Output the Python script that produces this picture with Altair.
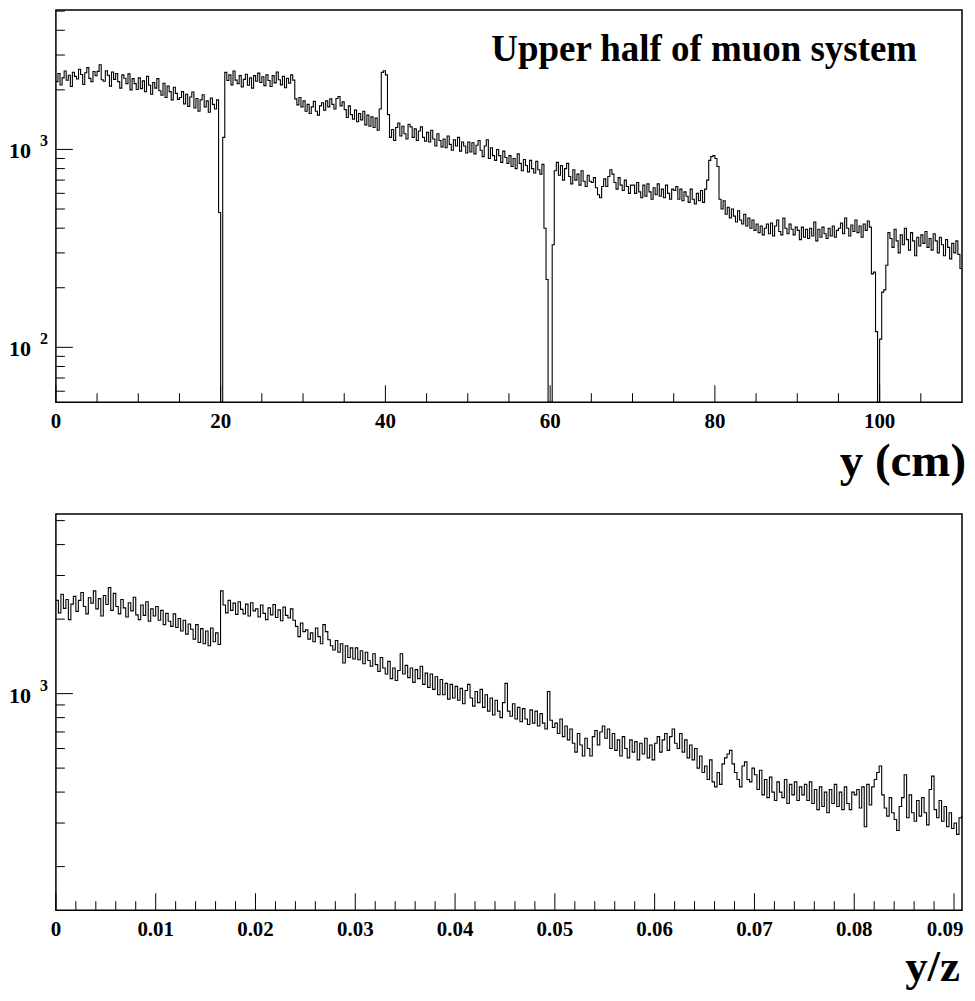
import altair as alt
import pandas as pd

FONT = "Liberation Serif"

# ---------------- data ----------------
top_bin_width = 0.25  # cm
top_counts = [
    2200, 2420, 2115, 2300, 2490, 2235, 2370, 2080, 2455, 2340, 2270, 2540, 2390, 2130, 2440, 2590, 2285, 2200, 2475, 2355,
    2480, 2680, 2250, 2210, 2500, 2370, 2090, 2460, 2260, 2420, 2200, 2040, 2380, 2290, 2150, 2410, 2000, 2280, 2150, 2010,
    2300, 2030, 2220, 1960, 2340, 2110, 1900, 2180, 2040, 2280, 1980, 1880, 2160, 1830, 2090, 1960, 1780, 2060, 1920, 1790,
    1830, 1960, 1700, 1900, 1650, 1840, 1950, 1620, 1810, 1560, 1780, 1890, 1640, 1760, 1540, 1820, 1690, 1600, 1780, 480,
    1, 1150, 2450, 2230, 2380, 2120, 2490, 2240, 2150, 2360, 2070, 2260, 2400, 2110, 2300, 2040, 2360, 2210, 2430, 2180,
    2330, 2100, 2380, 2230, 2080, 2360, 2170, 2460, 2250, 2120, 2340, 2050, 2290, 2160, 2380, 2240, 1800, 1680, 1830, 1640,
    1760, 1560, 1690, 1520, 1640, 1750, 1560, 1490, 1660, 1720, 1580, 1760, 1640, 1800, 1690, 1600, 1810, 1850, 1660, 1740,
    1590, 1450, 1660, 1500, 1420, 1580, 1380, 1520, 1410, 1560, 1330, 1490, 1310, 1460, 1290, 1440, 1250, 1600, 2450, 2500,
    2380, 1500, 1150, 1260, 1110, 1290, 1360, 1170, 1310, 1200, 1130, 1340, 1300, 1150, 1270, 1110, 1240, 1300, 1150, 1100,
    1220, 1090, 1250, 1130, 1040, 1200, 1110, 1030, 1130, 1020, 1170, 1060, 990, 1120, 1040, 1150, 980, 1090, 1040, 960,
    1090, 970, 1080, 950, 1050, 1110, 990, 920, 1040, 1120, 900, 1020, 930, 880, 1000, 930, 860, 980, 910, 850,
    930, 820, 900, 800, 950, 850, 780, 890, 830, 770, 880, 800, 760, 870, 790, 750, 840, 400, 220, 1,
    1, 330, 780, 860, 740, 830, 700, 800, 850, 730, 670, 790, 700, 750, 660, 780, 690, 650, 740, 690,
    680, 720, 640, 590, 570, 650, 710, 650, 730, 790, 750, 680, 630, 720, 660, 620, 700, 650, 600, 660,
    660, 600, 680, 610, 570, 660, 580, 670, 610, 560, 640, 590, 670, 580, 630, 570, 660, 600, 560, 630,
    620, 650, 560, 630, 550, 610, 580, 540, 630, 560, 530, 600, 550, 620, 540, 630, 700, 880, 920, 930,
    900, 820, 560, 500, 550, 470, 510, 450, 500, 460, 430, 490, 440, 420, 470, 410, 450, 400, 440, 390,
    420, 380, 410, 370, 400, 420, 375, 425, 365, 410, 440, 385, 370, 450, 400, 375, 420, 395, 370, 405,
    390, 350, 405, 360, 395, 355, 400, 365, 430, 345, 395, 360, 405, 375, 355, 400, 365, 410, 360, 390,
    400, 425, 375, 450, 400, 365, 415, 385, 440, 380, 410, 360, 420, 390, 435, 405, 235, 240, 120, 1,
    110, 190, 195, 260, 380, 355, 320, 395, 345, 300, 370, 330, 400, 350, 310, 380, 345, 290, 360, 325,
    370, 335, 385, 320, 355, 310, 375, 345, 300, 360, 330, 290, 350, 320, 280, 335, 300, 345, 295, 250,
]

bottom_bin_width = 0.00025  # y/z
bottom_counts = [
    2380, 2120, 2520, 2210, 2400, 1990, 2300, 2470, 2150, 2380, 2560, 2250, 2100, 2440, 2320, 2600, 2200, 2420, 2060, 2490,
    2290, 2680, 2170, 2540, 2250, 2100, 2400, 2220, 2040, 2330, 2160, 2450, 2080, 1990, 2280, 2070, 2350, 1960, 2200, 2060,
    2250, 1980, 2170, 1900, 2110, 1960, 1870, 2100, 1850, 2010, 1790, 1980, 1740, 1910, 1820, 1660, 1900, 1610, 1830, 1590,
    1790, 1560, 1840, 1620, 1760, 1580, 2600, 2280, 2120, 2380, 2170, 2320, 2090, 2350, 2190, 2100, 2300, 2060, 2330, 2160,
    2200, 2040, 2280, 2110, 1990, 2220, 2080, 2290, 2030, 2180, 1970, 2240, 2070, 2020, 2200, 1980, 1870, 1700, 1930, 1780,
    1810, 1660, 1760, 1620, 1840, 1700, 1590, 1900, 1780, 1650, 1560, 1500, 1640, 1470, 1590, 1330, 1560, 1400, 1530, 1380,
    1530, 1370, 1490, 1320, 1470, 1360, 1290, 1450, 1310, 1230, 1400, 1270, 1200, 1350, 1150, 1270, 1130, 1240, 1450, 1200,
    1300, 1160, 1270, 1110, 1250, 1150, 1290, 1090, 1210, 1060, 1200, 1040, 1170, 990, 1140, 990, 1100, 950, 1090, 960,
    1070, 940, 1050, 910, 1030, 1090, 960, 890, 1020, 920, 1040, 880, 990, 850, 960, 820, 940, 850, 800, 920,
    1100, 850, 810, 910, 790, 880, 770, 870, 790, 750, 860, 760, 850, 740, 830, 760, 720, 1020, 780, 730,
    760, 690, 790, 670, 740, 650, 720, 630, 580, 690, 620, 560, 660, 600, 560, 670, 710, 620, 700, 740,
    660, 720, 600, 690, 590, 650, 560, 670, 600, 550, 650, 580, 640, 540, 630, 570, 660, 550, 620, 540,
    630, 670, 580, 650, 690, 590, 670, 720, 630, 600, 690, 580, 650, 550, 620, 540, 600, 500, 560, 480,
    510, 450, 540, 440, 420, 480, 430, 520, 550, 570, 590, 520, 480, 450, 420, 510, 530, 450, 440, 500,
    470, 410, 490, 390, 450, 380, 460, 400, 370, 440, 400, 380, 450, 360, 430, 390, 440, 370, 420, 390,
    430, 370, 440, 360, 410, 340, 420, 350, 400, 330, 410, 360, 430, 350, 400, 340, 420, 360, 340, 400,
    390, 410, 345, 420, 290, 430, 355, 420, 450, 480, 510, 390, 345, 320, 380, 330, 310, 280, 350, 380,
    470, 315, 390, 330, 305, 370, 320, 380, 330, 295, 410, 464, 340, 315, 370, 305, 350, 290, 330, 285,
    300, 270, 315, 320,
]

assert len(top_counts) == 440, len(top_counts)
assert len(bottom_counts) == 364, len(bottom_counts)

top_x_labels = [0, 20, 40, 60, 80, 100]
top_x_label_text = ["0", "20", "40", "60", "80", "100"]
top_x_minor = [5, 10, 15, 25, 30, 35, 45, 50, 55, 65, 70, 75, 85, 90, 95, 105]
top_y_major = [100, 1000]
top_y_exp = ["2", "3"]
top_y_minor = [60, 70, 80, 90, 200, 300, 400, 500, 600, 700, 800, 900, 2000, 3000, 4000, 5000]

bot_x_labels = [0.0, 0.01, 0.02, 0.03, 0.04, 0.05, 0.06, 0.07, 0.08, 0.09]
bot_x_label_text = ["0", "0.01", "0.02", "0.03", "0.04", "0.05", "0.06", "0.07", "0.08", "0.09"]
bot_x_minor = [0.002, 0.004, 0.006, 0.008, 0.012, 0.014, 0.016, 0.018, 0.022, 0.024, 0.026, 0.028,
               0.032, 0.034, 0.036, 0.038, 0.042, 0.044, 0.046, 0.048, 0.052, 0.054, 0.056, 0.058,
               0.062, 0.064, 0.066, 0.068, 0.072, 0.074, 0.076, 0.078, 0.082, 0.084, 0.086, 0.088]
bot_y_major = [1000]
bot_y_exp = ["3"]
bot_y_minor = [200, 300, 400, 500, 600, 700, 800, 900, 2000, 3000, 4000, 5000]

W = 908


def hist_frame(counts, width):
    xs = [i * width for i in range(len(counts))] + [len(counts) * width]
    ns = list(counts) + [counts[-1]]
    return pd.DataFrame({"x": xs, "n": ns})


def panel(counts, width, xdom, ydom, H, xlabels, xlabel_text, xminor, ymajor, yexp, yminor,
          xtitle, title_size, title_right, title_base, title_text=None, last_label_dx=0):
    xs = alt.Scale(domain=xdom, nice=False, zero=False)
    ys = alt.Scale(type="log", domain=ydom, nice=False, clamp=True)

    line = alt.Chart(hist_frame(counts, width)).mark_line(
        interpolate="step-after", color="black", strokeWidth=1.1, clip=True
    ).encode(
        x=alt.X("x:Q", scale=xs, axis=None),
        y=alt.Y("n:Q", scale=ys, axis=None),
    )

    def xticks(vals, length):
        return alt.Chart(pd.DataFrame({"x": vals})).mark_rule(color="black", strokeWidth=1).encode(
            x=alt.X("x:Q", scale=xs, axis=None),
            y=alt.value(H - length), y2=alt.value(H))

    def yticks(vals, length):
        return alt.Chart(pd.DataFrame({"n": vals})).mark_rule(color="black", strokeWidth=1).encode(
            y=alt.Y("n:Q", scale=ys, axis=None),
            x=alt.value(0), x2=alt.value(length))

    def xlabel_layer(vals, texts, dx):
        return alt.Chart(pd.DataFrame({"x": vals, "t": texts})).mark_text(
            font=FONT, fontSize=21, fontWeight="bold", align="center",
            baseline="top", color="black", dx=dx
        ).encode(x=alt.X("x:Q", scale=xs, axis=None), y=alt.value(H + 9), text="t:N")

    labdf = pd.DataFrame({"n": ymajor, "e": yexp})
    lab10 = alt.Chart(labdf).mark_text(
        text="10", font=FONT, fontSize=22, fontWeight="bold", align="right",
        baseline="alphabetic", dy=9, color="black"
    ).encode(y=alt.Y("n:Q", scale=ys, axis=None), x=alt.value(-25))
    labexp = alt.Chart(labdf).mark_text(
        font=FONT, fontSize=16, fontWeight="bold", align="left",
        baseline="alphabetic", dy=-3, color="black"
    ).encode(y=alt.Y("n:Q", scale=ys, axis=None), x=alt.value(-16), text="e:N")

    xtitle_mark = alt.Chart(pd.DataFrame({"t": [xtitle]})).mark_text(
        font=FONT, fontSize=title_size, fontWeight="bold", align="right",
        baseline="alphabetic", color="black"
    ).encode(text="t:N", x=alt.value(title_right), y=alt.value(H + title_base))

    layers = [line, xticks(xlabels, 17), xticks(xminor, 9), yticks(ymajor, 17),
              yticks(yminor, 9), lab10, labexp,
              xlabel_layer(xlabels[:-1], xlabel_text[:-1], 0),
              xlabel_layer(xlabels[-1:], xlabel_text[-1:], last_label_dx),
              xtitle_mark]
    if title_text:
        layers.append(alt.Chart(pd.DataFrame({"t": [title_text]})).mark_text(
            font=FONT, fontSize=37, fontWeight="bold", align="right",
            baseline="alphabetic", color="black"
        ).encode(text="t:N", x=alt.value(863), y=alt.value(51)))
    return alt.layer(*layers).properties(width=W, height=H)


top = panel(top_counts, top_bin_width, [0, 110], [52.8, 5064], 393,
            top_x_labels, top_x_label_text, top_x_minor, top_y_major, top_y_exp, top_y_minor,
            "y (cm)", 47, W + 4, 74, "Upper half of muon system")
bottom = panel(bottom_counts, bottom_bin_width, [0, 0.0908], [133.4, 5319], 397,
               bot_x_labels, bot_x_label_text, bot_x_minor, bot_y_major, bot_y_exp, bot_y_minor,
               "y/z", 45, W - 2, 71, last_label_dx=-9)

chart = alt.vconcat(top, bottom, spacing=27).properties(
    padding=0, background="white"
).configure_view(stroke="black", strokeWidth=1.5)

chart.save("out.html", embed_options={"renderer": "svg", "actions": False})
